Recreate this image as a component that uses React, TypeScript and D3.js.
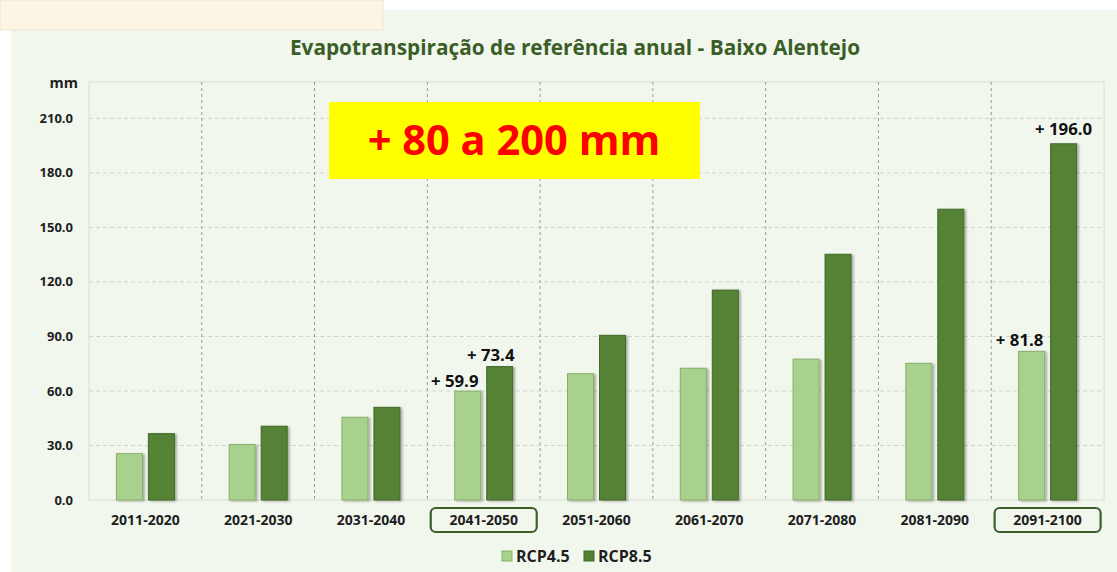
import React from 'react';
import * as d3 from 'd3';

const periods = ['2011-2020', '2021-2030', '2031-2040', '2041-2050', '2051-2060', '2061-2070', '2071-2080', '2081-2090', '2091-2100'];
const rcp45 = [25.5, 30.5, 45.5, 59.9, 69.5, 72.5, 77.5, 75.2, 81.8];
const rcp85 = [36.5, 40.6, 51.0, 73.4, 90.6, 115.5, 135.2, 160.0, 196.0];
const yTicks = [0, 30, 60, 90, 120, 150, 180, 210];
const highlighted = ['2041-2050', '2091-2100'];
// which bars carry a "+ value" label
const callouts = [
  { period: '2041-2050', series: 0, dx: -13, dy: -4 },
  { period: '2041-2050', series: 1, dx: -9, dy: -6 },
  { period: '2091-2100', series: 0, dx: -12, dy: -5 },
  { period: '2091-2100', series: 1, dx: 0, dy: -9 },
];

const W = 1117;
const H = 572;
const margin = { top: 82, right: 13, bottom: 72, left: 89 };
const FONT = "'Open Sans', 'Noto Sans', sans-serif";
const LIGHT = '#a9d18e';
const DARK = '#548235';

const App = () => {
  const innerW = W - margin.left - margin.right;
  const innerH = H - margin.top - margin.bottom;

  const x = d3.scaleBand<string>().domain(periods).range([0, innerW]);
  const y = d3.scaleLinear().domain([0, 230]).range([innerH, 0]);

  const barW = 26;
  const gap = 3;
  const barX = (p: string, s: number) => {
    const c = (x(p) ?? 0) + x.bandwidth() / 2;
    return s === 0 ? c - gap - barW : c + gap;
  };
  const series = [rcp45, rcp85];
  const colors = [LIGHT, DARK];
  const strokes = ['#86b06a', '#3f6a26'];

  return (
    <svg width={W} height={H} style={{ position: 'absolute', left: 0, top: 0 }} fontFamily={FONT}>
      <defs>
        <filter id="shadow" x="-20%" y="-5%" width="150%" height="110%">
          <feDropShadow dx="2" dy="1" stdDeviation="1" floodColor="#000" floodOpacity="0.3" />
        </filter>
      </defs>
      <rect x={0} y={0} width={W} height={H} fill="#ffffff" />
      <rect x={11} y={10} width={W - 11} height={H - 10} fill="#f2f7ee" />
      <rect x={0} y={0} width={383} height={30} fill="#fdf5e4" stroke="#ece6d8" />

      <text x={575} y={55} textAnchor="middle" fontSize={20.8} fontWeight="bold" fill="#3b5e27">
        Evapotranspiração de referência anual - Baixo Alentejo
      </text>

      <g transform={`translate(${margin.left},${margin.top})`}>
        <rect x={0} y={0} width={innerW} height={innerH} fill="none" stroke="#d9dcd6" />
        {yTicks.slice(1).map(t => (
          <line key={t} x1={0} x2={innerW} y1={y(t)} y2={y(t)} stroke="#cfd3cc" strokeDasharray="4,3" />
        ))}
        {periods.slice(1).map(p => (
          <line key={p} x1={x(p)} x2={x(p)} y1={0} y2={innerH} stroke="#9a9a9a" strokeDasharray="3,3" />
        ))}
        {yTicks.map(t => (
          <text key={t} x={-16} y={y(t)} dy="0.35em" textAnchor="end" fontSize={13} fontWeight="bold" fill="#1e1e1e">
            {t.toFixed(1)}
          </text>
        ))}
        <text x={-11} y={6} textAnchor="end" fontSize={14.5} fontWeight="bold" fill="#1e1e1e">mm</text>

        {series.map((vals, s) =>
          periods.map((p, i) => (
            <rect key={`${s}-${p}`} x={barX(p, s)} y={y(vals[i])} width={barW} height={innerH - y(vals[i])}
              fill={colors[s]} stroke={strokes[s]} strokeWidth={1} filter="url(#shadow)" />
          ))
        )}

        {callouts.map(c => {
          const v = series[c.series][periods.indexOf(c.period)];
          return (
            <text key={`${c.period}-${c.series}`} x={barX(c.period, c.series) + barW / 2 + c.dx} y={y(v) + c.dy}
              textAnchor="middle" fontSize={16.8} fontWeight="bold" fill="#111">
              {`+ ${v.toFixed(1)}`}
            </text>
          );
        })}

        {periods.map(p => {
          const cx = (x(p) ?? 0) + x.bandwidth() / 2;
          return (
            <g key={p}>
              {highlighted.includes(p) && (
                <rect x={cx - 53} y={innerH + 8} width={106} height={24} rx={5} fill="none" stroke="#3d5e2a" strokeWidth={2.2} />
              )}
              <text x={cx} y={innerH + 20} dy="0.35em" textAnchor="middle" fontSize={14} fontWeight="bold" fill="#1e1e1e">{p}</text>
            </g>
          );
        })}
      </g>

      <rect x={329} y={102} width={371} height={77} fill="#ffff00" />
      <text x={514} y={155} textAnchor="middle" fontSize={41.6} fontWeight="bold" fill="#ff0000">+ 80 a 200 mm</text>

      <g transform="translate(502,551)">
        <rect x={0} y={0} width={10} height={10} fill={LIGHT} stroke="#86b06a" />
        <text x={14} y={5} dy="0.35em" fontSize={16} fontWeight="bold" fill="#1e1e1e">RCP4.5</text>
        <rect x={82} y={0} width={10} height={10} fill={DARK} stroke="#3f6a26" />
        <text x={96} y={5} dy="0.35em" fontSize={16} fontWeight="bold" fill="#1e1e1e">RCP8.5</text>
      </g>
    </svg>
  );
};

export default App;
